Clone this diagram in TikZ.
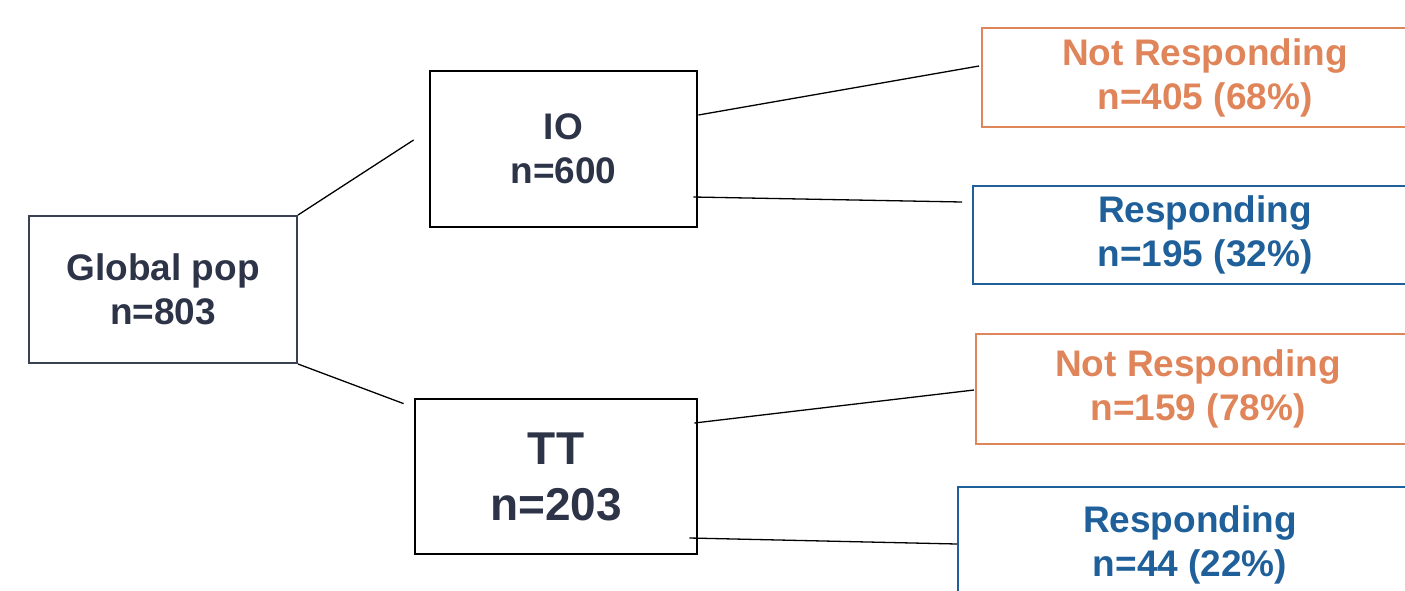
\documentclass[tikz,border=0pt]{standalone}
\usepackage{fontspec}
\setmainfont{Liberation Sans}
\usetikzlibrary{positioning, calc}
\definecolor{cnavy}{HTML}{2D3447}
\definecolor{cslate}{HTML}{3A4152}
\definecolor{corange}{HTML}{E0845A}
\definecolor{cblue}{HTML}{1F5F9A}
\tikzset{
  every picture/.style={font=\bfseries\fontsize{37}{44}\selectfont},
  box/.style={draw=#1, text=#1, line width=2pt, align=center, inner sep=0pt},
  box/.default=cslate,
  group/.style={draw=black, text=cnavy, line width=2.8pt, align=center, inner sep=0pt},
  link/.style={draw=black, line width=1.3pt},
}
\begin{document}
\begin{tikzpicture}[x=1pt, y=-1pt]
  \useasboundingbox (0,0) rectangle (1405,590);
  \clip (0,0) rectangle (1405,590);
  % the tree, root on the left
  \node[box, text=cnavy, minimum width=268pt, minimum height=147pt] (global) at (163,289.5) {Global pop\\n=803};
  \node[group, minimum width=267pt, minimum height=156pt] (io) at (563.5,149) {IO\\n=600};
  \node[group, minimum width=282pt, minimum height=155pt, font=\bfseries\fontsize{46}{56}\selectfont] (tt) at (556,476.5) {TT\\n=203};
  % outcomes, running off the right edge
  \node[box=corange, minimum width=446pt, minimum height=99pt] (ionr) at (1205,77.5) {Not Responding\\n=405 (68\%)};
  \node[box=cblue, minimum width=464pt, minimum height=98pt] (ior) at (1205,235) {Responding\\n=195 (32\%)};
  \node[box=corange, minimum width=444pt, minimum height=110pt] (ttnr) at (1198,389) {Not Responding\\n=159 (78\%)};
  \node[box=cblue, minimum width=464pt, minimum height=116pt] (ttr) at (1190,545) {Responding\\n=44 (22\%)};
  \draw[link] (global.north east) -- ($(io.west)+(-15,-9)$);
  \draw[link] (global.south east) -- ($(tt.north west)+(-10,6)$);
  \draw[link] ($(io.east)+(0,-34)$) -- ($(ionr.west)+(-2,-11.5)$);
  \draw[link] ($(io.east)+(-5,48)$) -- ($(ior.north west)+(-10,17)$);
  \draw[link] ($(tt.east)+(-4,-53.5)$) -- ($(ttnr.west)+(-1,1)$);
  \draw[link] ($(tt.east)+(-9,61.5)$) -- ($(ttr.west)+(0,-1)$);
\end{tikzpicture}
\end{document}
